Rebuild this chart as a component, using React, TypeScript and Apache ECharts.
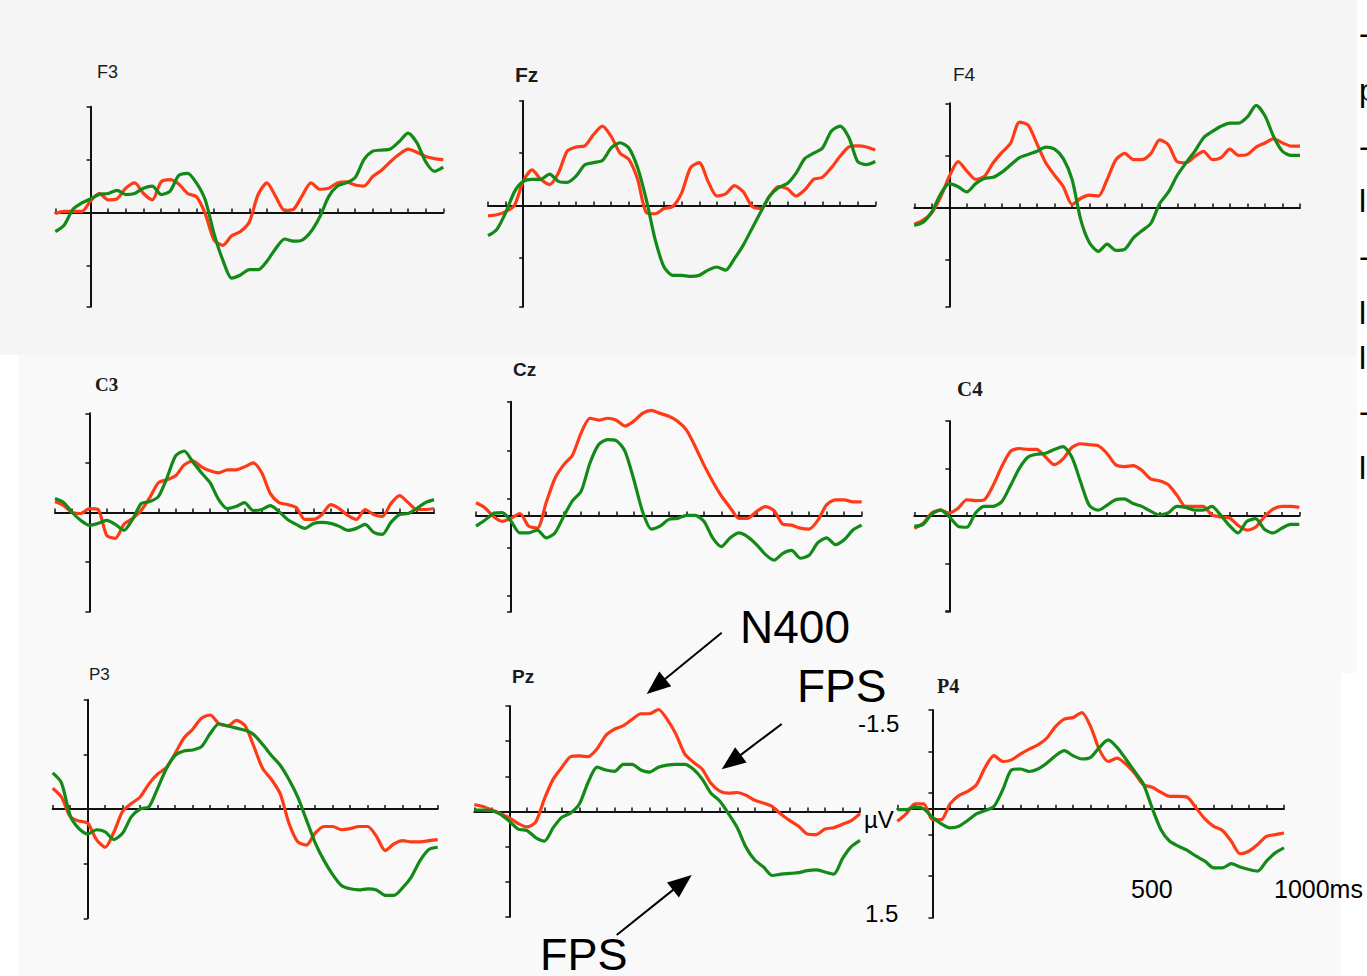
import React, { useEffect, useRef } from 'react';
import * as echarts from 'echarts';

const TIMES = [-100, -75, -50, -25, 0, 25, 50, 75, 100, 125, 150, 175, 200, 225, 250, 275, 300, 325, 350, 375, 400, 425, 450, 475, 500, 525, 550, 575, 600, 625, 650, 675, 700, 725, 750, 775, 800, 825, 850, 875, 900, 925, 950, 975, 1000];

// Amplitudes in µV (negative plotted upward). R = red condition, G = green condition.
const F3_R = [0.01, -0.01, -0.01, -0.01, -0.11, -0.18, -0.12, -0.13, -0.23, -0.28, -0.18, -0.12, -0.29, -0.31, -0.27, -0.18, -0.15, 0.01, 0.26, 0.31, 0.22, 0.18, 0.09, -0.17, -0.28, -0.15, -0.02, -0.03, -0.16, -0.28, -0.22, -0.23, -0.28, -0.29, -0.26, -0.25, -0.34, -0.4, -0.48, -0.55, -0.6, -0.57, -0.53, -0.51, -0.5];
const F3_G = [0.18, 0.12, -0.03, -0.09, -0.13, -0.17, -0.18, -0.21, -0.17, -0.18, -0.23, -0.25, -0.17, -0.2, -0.35, -0.37, -0.28, -0.12, 0.2, 0.45, 0.62, 0.59, 0.54, 0.54, 0.46, 0.34, 0.25, 0.27, 0.26, 0.18, 0.04, -0.15, -0.25, -0.28, -0.33, -0.5, -0.58, -0.59, -0.6, -0.67, -0.75, -0.66, -0.48, -0.39, -0.43];
const FZ_R = [0.1, 0.09, 0.06, 0, -0.23, -0.34, -0.25, -0.2, -0.31, -0.52, -0.56, -0.57, -0.68, -0.76, -0.66, -0.5, -0.44, -0.25, 0.07, 0.08, 0.03, 0.01, -0.12, -0.36, -0.41, -0.23, -0.09, -0.11, -0.19, -0.13, 0.01, 0.03, -0.09, -0.18, -0.16, -0.09, -0.15, -0.25, -0.27, -0.36, -0.47, -0.56, -0.57, -0.56, -0.53];
const FZ_G = [0.29, 0.23, 0.07, -0.13, -0.23, -0.25, -0.25, -0.3, -0.23, -0.22, -0.28, -0.39, -0.41, -0.43, -0.55, -0.6, -0.55, -0.36, -0.05, 0.33, 0.59, 0.67, 0.67, 0.68, 0.67, 0.62, 0.59, 0.62, 0.51, 0.38, 0.22, 0.06, -0.09, -0.17, -0.21, -0.31, -0.45, -0.5, -0.55, -0.71, -0.76, -0.65, -0.42, -0.39, -0.42];
const F4_R = [0.16, 0.12, 0.05, -0.1, -0.3, -0.44, -0.35, -0.27, -0.3, -0.43, -0.53, -0.62, -0.82, -0.79, -0.61, -0.43, -0.31, -0.2, -0.03, -0.09, -0.12, -0.11, -0.27, -0.46, -0.52, -0.46, -0.46, -0.52, -0.65, -0.6, -0.44, -0.43, -0.49, -0.54, -0.46, -0.48, -0.56, -0.5, -0.51, -0.58, -0.62, -0.66, -0.62, -0.59, -0.59];
const F4_G = [0.17, 0.14, 0.04, -0.13, -0.23, -0.2, -0.15, -0.23, -0.28, -0.29, -0.34, -0.41, -0.48, -0.51, -0.54, -0.58, -0.56, -0.47, -0.27, 0.12, 0.34, 0.42, 0.35, 0.41, 0.4, 0.29, 0.22, 0.15, -0.04, -0.15, -0.31, -0.43, -0.54, -0.67, -0.73, -0.78, -0.81, -0.81, -0.87, -0.98, -0.88, -0.68, -0.54, -0.5, -0.5];
const C3_R = [-0.11, -0.07, 0, 0.01, -0.04, -0.03, 0.23, 0.26, 0.12, 0.06, -0.02, -0.15, -0.3, -0.33, -0.37, -0.48, -0.52, -0.46, -0.42, -0.4, -0.43, -0.43, -0.46, -0.5, -0.4, -0.19, -0.1, -0.08, -0.05, 0.07, 0.07, 0.02, -0.08, -0.04, 0.03, 0.07, -0.03, 0.02, 0.04, -0.09, -0.17, -0.1, -0.03, -0.03, -0.04];
const C3_G = [-0.14, -0.1, 0, 0.08, 0.13, 0.11, 0.08, 0.12, 0.18, 0.07, -0.09, -0.11, -0.16, -0.35, -0.57, -0.62, -0.51, -0.4, -0.3, -0.13, -0.04, -0.06, -0.1, -0.02, -0.03, -0.07, -0.01, 0.07, 0.12, 0.16, 0.11, 0.1, 0.11, 0.14, 0.18, 0.16, 0.12, 0.2, 0.22, 0.1, 0.02, 0.01, -0.04, -0.1, -0.13];
const CZ_R = [-0.13, -0.08, 0.01, 0.06, 0.03, -0.02, 0.11, 0.13, -0.13, -0.38, -0.52, -0.62, -0.85, -1.0, -0.98, -1.0, -0.98, -0.92, -0.97, -1.05, -1.08, -1.05, -1.02, -0.97, -0.88, -0.71, -0.52, -0.35, -0.2, -0.08, 0.03, 0.03, -0.04, -0.09, -0.05, 0.09, 0.1, 0.13, 0.14, 0.05, -0.11, -0.16, -0.16, -0.14, -0.14];
const CZ_G = [0.11, 0.05, -0.02, -0.03, 0.06, 0.18, 0.18, 0.15, 0.23, 0.18, 0.01, -0.15, -0.25, -0.54, -0.73, -0.78, -0.77, -0.66, -0.37, -0.04, 0.14, 0.11, 0.04, 0.03, 0, 0, 0.06, 0.23, 0.32, 0.23, 0.18, 0.22, 0.3, 0.4, 0.46, 0.39, 0.36, 0.44, 0.41, 0.28, 0.23, 0.3, 0.25, 0.15, 0.1];
const C4_R = [0.13, 0.08, -0.03, -0.06, -0.03, -0.08, -0.17, -0.16, -0.17, -0.32, -0.52, -0.68, -0.71, -0.7, -0.7, -0.62, -0.54, -0.6, -0.72, -0.76, -0.75, -0.74, -0.66, -0.54, -0.52, -0.53, -0.48, -0.39, -0.37, -0.33, -0.22, -0.1, -0.1, -0.1, -0.01, 0.01, 0.02, 0.1, 0.15, 0.12, 0.01, -0.07, -0.1, -0.1, -0.09];
const C4_G = [0.11, 0.09, -0.02, -0.06, 0.01, 0.11, 0.12, -0.03, -0.1, -0.1, -0.15, -0.32, -0.5, -0.62, -0.65, -0.66, -0.7, -0.73, -0.62, -0.36, -0.11, -0.06, -0.11, -0.17, -0.18, -0.13, -0.1, -0.05, -0.01, -0.03, -0.1, -0.09, -0.06, -0.06, -0.1, -0.01, 0.1, 0.18, 0.06, 0.03, 0.14, 0.18, 0.13, 0.09, 0.09];
const P3_R = [-0.19, -0.11, 0.07, 0.11, 0.13, 0.28, 0.35, 0.21, 0.02, -0.05, -0.11, -0.23, -0.32, -0.38, -0.51, -0.65, -0.73, -0.83, -0.86, -0.78, -0.76, -0.81, -0.76, -0.57, -0.37, -0.27, -0.14, 0.13, 0.3, 0.33, 0.22, 0.16, 0.16, 0.19, 0.18, 0.16, 0.16, 0.25, 0.38, 0.32, 0.29, 0.3, 0.3, 0.29, 0.28];
const P3_G = [-0.33, -0.24, 0.06, 0.18, 0.23, 0.19, 0.21, 0.28, 0.22, 0.07, 0, -0.02, -0.19, -0.37, -0.49, -0.53, -0.54, -0.57, -0.69, -0.78, -0.76, -0.74, -0.72, -0.68, -0.59, -0.49, -0.4, -0.27, -0.11, 0.1, 0.31, 0.47, 0.6, 0.7, 0.73, 0.74, 0.73, 0.74, 0.79, 0.79, 0.72, 0.62, 0.47, 0.37, 0.35];
const PZ_R = [-0.1, -0.07, -0.02, 0.03, 0.09, 0.17, 0.22, 0.15, -0.18, -0.46, -0.63, -0.78, -0.79, -0.78, -0.89, -1.08, -1.17, -1.22, -1.31, -1.39, -1.39, -1.45, -1.31, -1.1, -0.82, -0.7, -0.6, -0.4, -0.29, -0.26, -0.27, -0.23, -0.16, -0.12, -0.07, 0.04, 0.13, 0.21, 0.32, 0.33, 0.25, 0.23, 0.18, 0.13, 0.03];
const PZ_G = [-0.02, -0.02, -0.01, 0.04, 0.14, 0.25, 0.27, 0.37, 0.42, 0.23, 0.08, 0.02, -0.11, -0.42, -0.63, -0.59, -0.57, -0.67, -0.67, -0.59, -0.56, -0.63, -0.66, -0.67, -0.67, -0.6, -0.46, -0.26, -0.15, 0.03, 0.23, 0.51, 0.69, 0.79, 0.91, 0.89, 0.88, 0.87, 0.84, 0.83, 0.86, 0.89, 0.67, 0.5, 0.41];
const P4_R = [0.15, 0.06, -0.06, -0.06, 0.13, 0.13, -0.06, -0.16, -0.21, -0.29, -0.5, -0.64, -0.57, -0.59, -0.66, -0.72, -0.77, -0.85, -0.99, -1.08, -1.1, -1.16, -0.99, -0.71, -0.57, -0.61, -0.54, -0.43, -0.29, -0.26, -0.2, -0.15, -0.15, -0.14, -0.01, 0.12, 0.21, 0.26, 0.39, 0.54, 0.51, 0.43, 0.33, 0.31, 0.29];
const P4_G = [0.01, 0.01, -0.02, 0, 0.1, 0.18, 0.23, 0.21, 0.14, 0.06, 0.02, -0.03, -0.23, -0.47, -0.48, -0.45, -0.48, -0.55, -0.64, -0.7, -0.64, -0.6, -0.62, -0.74, -0.83, -0.74, -0.6, -0.45, -0.3, -0.01, 0.25, 0.39, 0.45, 0.5, 0.57, 0.63, 0.71, 0.71, 0.66, 0.7, 0.73, 0.75, 0.63, 0.53, 0.47];

// Axis labels and annotations
const Y_TICK_LABELS = ['-1.5', 'µV', '1.5'];
const X_TICK_LABELS = ['500', '1000ms'];
const ANNOTATIONS = ['N400', 'FPS', 'FPS'];

const RED = '#ff3a16';
const GREEN = '#138a18';
const AXIS = '#111111';

// Layout of each electrode panel (pixels) and its y-axis range
const PANELS = [
  { name: 'F3', red: F3_R, green: F3_G, left: 55.3, top: 106.7, width: 388, height: 200, yMin: -1.0, yMax: 0.89, tx: 97, ty: 72, fs: 18, fw: 'normal', ff: 'Liberation Sans' },
  { name: 'Fz', red: FZ_R, green: FZ_G, left: 488, top: 101, width: 387.3, height: 205.7, yMin: -1.0, yMax: 0.97, tx: 515, ty: 74, fs: 21, fw: 'bold', ff: 'Liberation Sans' },
  { name: 'F4', red: F4_R, green: F4_G, left: 914.3, top: 103.3, width: 385.7, height: 203.4, yMin: -1.0, yMax: 0.95, tx: 953, ty: 74.5, fs: 19, fw: 'normal', ff: 'Liberation Sans' },
  { name: 'C3', red: C3_R, green: C3_G, left: 55, top: 413.3, width: 379, height: 198.4, yMin: -1.0, yMax: 1.0, tx: 95, ty: 384, fs: 19, fw: 'bold', ff: 'Liberation Serif' },
  { name: 'Cz', red: CZ_R, green: CZ_G, left: 476, top: 401.7, width: 385.7, height: 210, yMin: -1.17, yMax: 0.99, tx: 513, ty: 369, fs: 19, fw: 'bold', ff: 'Liberation Sans' },
  { name: 'C4', red: C4_R, green: C4_G, left: 914.3, top: 421, width: 385, height: 190.7, yMin: -1.0, yMax: 1.01, tx: 957, ty: 389, fs: 21, fw: 'bold', ff: 'Liberation Serif' },
  { name: 'P3', red: P3_R, green: P3_G, left: 52.7, top: 699.7, width: 385, height: 218.6, yMin: -1.0, yMax: 1.0, tx: 89, ty: 674, fs: 17, fw: 'normal', ff: 'Liberation Sans' },
  { name: 'Pz', red: PZ_R, green: PZ_G, left: 474.3, top: 706, width: 385.7, height: 211, yMin: -1.5, yMax: 1.5, tx: 512, ty: 676, fs: 19, fw: 'bold', ff: 'Liberation Sans' },
  { name: 'P4', red: P4_R, green: P4_G, left: 897.3, top: 710, width: 386.7, height: 207.7, yMin: -1.19, yMax: 1.31, tx: 937, ty: 685.5, fs: 20, fw: 'bold', ff: 'Liberation Serif' },
];

function txt(text: string, x: number, y: number, fontSize: number, opts: any = {}) {
  return {
    type: 'text',
    x,
    y,
    z: 20,
    silent: true,
    style: {
      text,
      fill: opts.fill || '#000',
      fontSize,
      fontWeight: opts.fontWeight || 'normal',
      fontFamily: opts.fontFamily || 'Liberation Sans',
      textAlign: opts.align || 'left',
      textVerticalAlign: 'middle',
    },
  };
}

function arrow(x1: number, y1: number, x2: number, y2: number, L = 24, W = 9.5) {
  const dx = x2 - x1;
  const dy = y2 - y1;
  const len = Math.hypot(dx, dy);
  const ux = dx / len;
  const uy = dy / len;
  const bx = x2 - ux * L;
  const by = y2 - uy * L;
  const nx = -uy;
  const ny = ux;
  return [
    { type: 'line', z: 20, silent: true, shape: { x1, y1, x2: bx + ux * 3, y2: by + uy * 3 }, style: { stroke: '#000', lineWidth: 2 } },
    {
      type: 'polygon', z: 20, silent: true,
      shape: { points: [[x2, y2], [bx + nx * W, by + ny * W], [bx - nx * W, by - ny * W]] },
      style: { fill: '#000' },
    },
  ];
}

function buildOption() {
  const grid = PANELS.map((p) => ({ left: p.left, top: p.top, width: p.width, height: p.height }));
  const xAxis = PANELS.map((p, i) => ({
    gridIndex: i,
    type: 'value',
    min: -100,
    max: 1000,
    interval: 50,
    axisLine: { show: true, onZero: true, lineStyle: { color: AXIS, width: 2 } },
    axisTick: { show: true, inside: true, length: 4, lineStyle: { color: AXIS, width: 1.5 } },
    axisLabel: { show: false },
    splitLine: { show: false },
  }));
  const yAxis = PANELS.map((p, i) => ({
    gridIndex: i,
    type: 'value',
    inverse: true,
    min: p.yMin,
    max: p.yMax,
    interval: 0.5,
    axisLine: { show: true, onZero: true, lineStyle: { color: AXIS, width: 2 } },
    axisTick: { show: true, inside: false, length: 4, lineStyle: { color: AXIS, width: 1.5 } },
    axisLabel: { show: false },
    splitLine: { show: false },
  }));
  const series: any[] = [];
  PANELS.forEach((p, i) => {
    [
      { arr: p.red, color: RED, name: p.name + ' red' },
      { arr: p.green, color: GREEN, name: p.name + ' green' },
    ].forEach((s) => {
      series.push({
        type: 'line',
        name: s.name,
        xAxisIndex: i,
        yAxisIndex: i,
        data: TIMES.map((t, k) => [t, s.arr[k]]),
        symbol: 'none',
        smooth: 0.25,
        silent: true,
        lineStyle: { color: s.color, width: 3.2 },
        itemStyle: { color: s.color },
        z: 3,
      });
    });
  });

  const graphic: any[] = [
    { type: 'rect', z: -100, silent: true, shape: { x: 0, y: 0, width: 1357, height: 355 }, style: { fill: '#f5f5f5' } },
    { type: 'rect', z: -100, silent: true, shape: { x: 18, y: 355, width: 1339, height: 318 }, style: { fill: '#f9f9f9' } },
    { type: 'rect', z: -100, silent: true, shape: { x: 18, y: 673, width: 1323, height: 303 }, style: { fill: '#f9f9f9' } },
  ];
  PANELS.forEach((p) => {
    graphic.push(txt(p.name, p.tx, p.ty, p.fs, { fontWeight: p.fw, fontFamily: p.ff, fill: '#1a1a1a' }));
  });
  // Scale labels next to Pz
  graphic.push(txt(Y_TICK_LABELS[0], 858, 723, 24));
  graphic.push(txt(Y_TICK_LABELS[1], 864, 819, 24));
  graphic.push(txt(Y_TICK_LABELS[2], 865, 913, 24));
  graphic.push(txt(X_TICK_LABELS[0], 1131, 889, 25));
  graphic.push(txt(X_TICK_LABELS[1], 1274, 889, 25));
  // Component annotations
  graphic.push(txt(ANNOTATIONS[0], 740, 627, 46));
  graphic.push(txt(ANNOTATIONS[1], 797, 686, 46));
  graphic.push(txt(ANNOTATIONS[2], 540, 954, 45));
  graphic.push(...arrow(721.7, 632.7, 646.7, 694));
  graphic.push(...arrow(781.7, 724, 721.7, 769.3));
  graphic.push(...arrow(616.7, 935, 691.7, 875));
  // Text cut off at the right edge of the slide
  const edge: [string, number][] = [['-', 33], ['p', 90], ['-', 146], ['l', 201], ['-', 256], ['l', 313], ['l', 358], ['-', 411], ['l', 468]];
  edge.forEach(([t, y]) => graphic.push(txt(t, 1359, y, 32)));

  return {
    animation: false,
    backgroundColor: '#ffffff',
    grid,
    xAxis,
    yAxis,
    series,
    graphic,
  };
}

export default function App() {
  const ref = useRef<HTMLDivElement>(null);
  useEffect(() => {
    if (!ref.current) return;
    const chart = echarts.init(ref.current, null, { renderer: 'svg' });
    chart.setOption(buildOption() as any);
    return () => chart.dispose();
  }, []);
  return (
    <div
      ref={ref}
      style={{ position: 'fixed', left: 0, top: 0, width: 1367, height: 976, overflow: 'hidden' }}
    />
  );
}
